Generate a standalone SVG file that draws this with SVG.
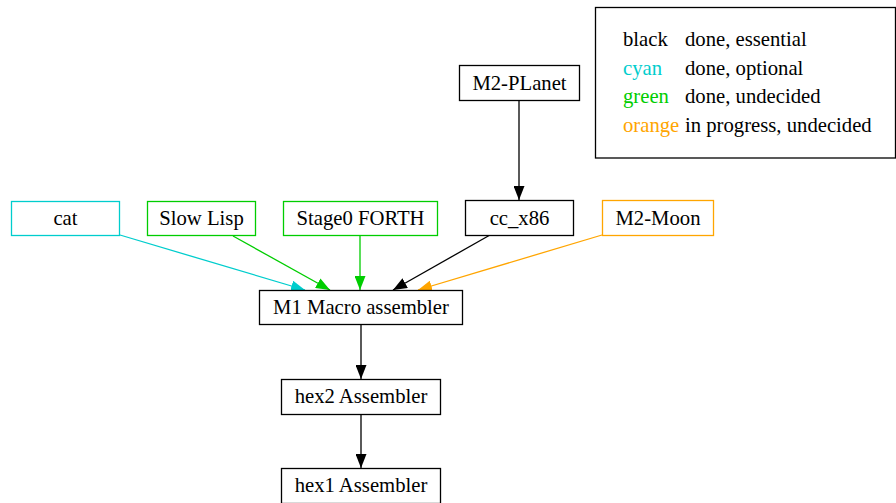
<svg xmlns="http://www.w3.org/2000/svg" width="896" height="503" viewBox="0 0 896 503">
<style>
text{font-family:"Liberation Serif","Times New Roman",serif;font-size:20.7px;fill:#000}
.n text{text-anchor:middle}
rect{fill:#fff;stroke-width:1.3}
.k{stroke:#000}.c{stroke:#00cdcd}.g{stroke:#00cd00}.o{stroke:#ffa500}
.e{fill:none;stroke-width:1.3}
</style>
<defs>
<marker id="ak" markerWidth="14" markerHeight="11" refX="14" refY="5.5" orient="auto" markerUnits="userSpaceOnUse"><path d="M0,0L14,5.5L0,11z" fill="#000"/></marker>
<marker id="ac" markerWidth="14" markerHeight="11" refX="14" refY="5.5" orient="auto" markerUnits="userSpaceOnUse"><path d="M0,0L14,5.5L0,11z" fill="#00cdcd"/></marker>
<marker id="ag" markerWidth="14" markerHeight="11" refX="14" refY="5.5" orient="auto" markerUnits="userSpaceOnUse"><path d="M0,0L14,5.5L0,11z" fill="#00cd00"/></marker>
<marker id="ao" markerWidth="14" markerHeight="11" refX="14" refY="5.5" orient="auto" markerUnits="userSpaceOnUse"><path d="M0,0L14,5.5L0,11z" fill="#ffa500"/></marker>
</defs>
<rect width="896" height="503" fill="#fff" stroke="none"/>
<g id="legend">
<rect x="595.5" y="7.5" width="300" height="150.5" class="k"/>
<text x="623" y="46">black</text><text x="685" y="46">done, essential</text>
<text x="623" y="75" style="fill:#00cdcd">cyan</text><text x="685" y="75">done, optional</text>
<text x="623" y="103" style="fill:#00cd00">green</text><text x="685" y="103">done, undecided</text>
<text x="623" y="132" style="fill:#ffa500">orange</text><text x="685" y="132">in progress, undecided</text>
</g>
<g id="connectors">
<path class="e k" d="M519,100V200" marker-end="url(#ak)"/>
<path class="e c" d="M120,235L305,290" marker-end="url(#ac)"/>
<path class="e g" d="M233,236L330,290" marker-end="url(#ag)"/>
<path class="e g" d="M360,236V290" marker-end="url(#ag)"/>
<path class="e k" d="M490,235L393,290" marker-end="url(#ak)"/>
<path class="e o" d="M602,235L418,290" marker-end="url(#ao)"/>
<path class="e k" d="M361,325V379" marker-end="url(#ak)"/>
<path class="e k" d="M361,414V468" marker-end="url(#ak)"/>
</g>
<g id="m2planet" class="n"><rect x="459.5" y="65.5" width="120" height="35" class="k"/><text x="519.5" y="90">M2-PLanet</text></g>
<g id="cat" class="n"><rect x="11.5" y="201.5" width="108" height="34" class="c"/><text x="65.5" y="225">cat</text></g>
<g id="slowlisp" class="n"><rect x="147.5" y="201.5" width="108" height="34" class="g"/><text x="201.5" y="225">Slow Lisp</text></g>
<g id="stage0forth" class="n"><rect x="283.5" y="201.5" width="154" height="34" class="g"/><text x="360.5" y="225">Stage0 FORTH</text></g>
<g id="ccx86" class="n"><rect x="465.5" y="200.5" width="108" height="35" class="k"/><text x="519.5" y="225">cc_x86</text></g>
<g id="m2moon" class="n"><rect x="602.5" y="200.5" width="111" height="35" class="o"/><text x="658" y="225">M2-Moon</text></g>
<g id="m1" class="n"><rect x="259.5" y="290.5" width="203" height="34" class="k"/><text x="361" y="314">M1 Macro assembler</text></g>
<g id="hex2" class="n"><rect x="281.5" y="379.5" width="159" height="35" class="k"/><text x="361" y="403">hex2 Assembler</text></g>
<g id="hex1" class="n"><rect x="281.5" y="468.5" width="159" height="35" class="k"/><text x="361" y="492">hex1 Assembler</text></g>
</svg>
